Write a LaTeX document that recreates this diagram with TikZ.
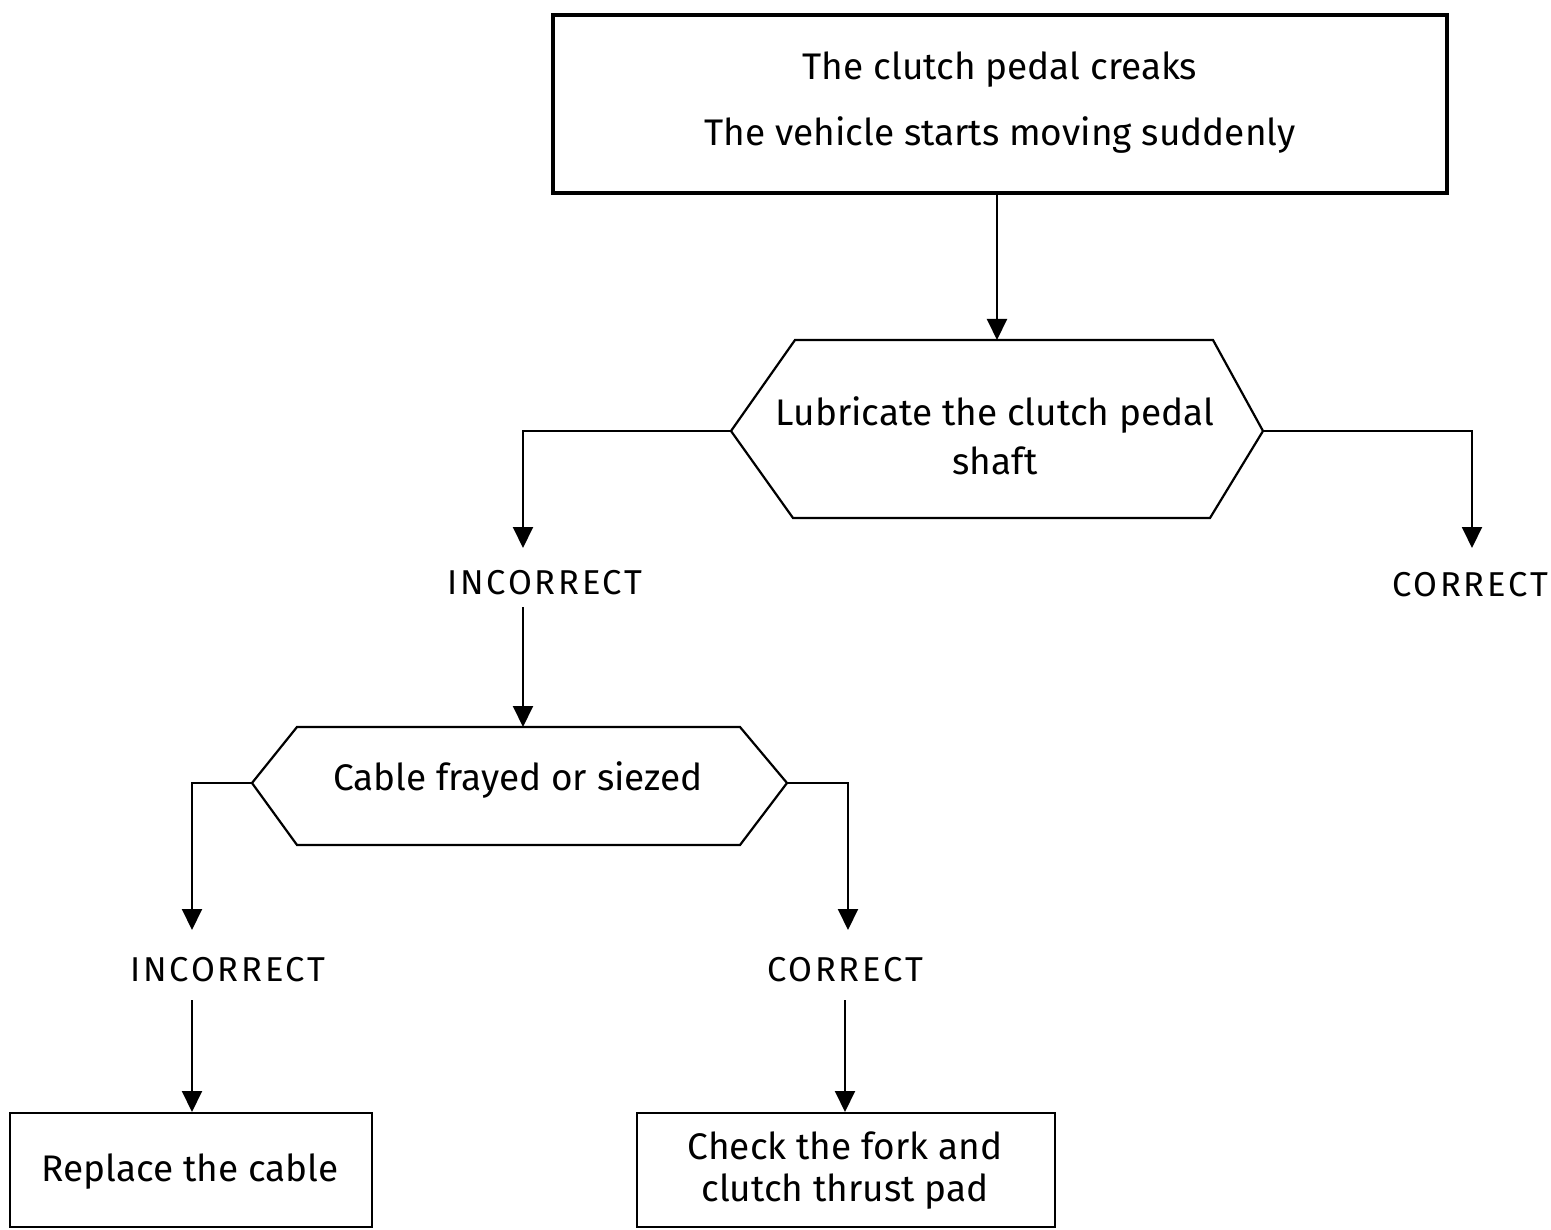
\documentclass[tikz,border=0pt]{standalone}
\usepackage{fontspec}
\setmainfont{Fira Sans}
\newfontfamily\lblfont{Fira Sans}[LetterSpace=8]
\usetikzlibrary{arrows.meta}
\begin{document}
\begin{tikzpicture}[x=1pt,y=-1pt,
  txt/.style={font=\fontsize{37}{49}\selectfont, align=center, inner sep=0pt},
  lbl/.style={font=\lblfont\fontsize{34.5}{38}\selectfont, inner sep=0pt},
  ln/.style={line width=2pt},
  arr/.style={ln, -{Triangle[length=21pt,width=20pt]}},
  hexa/.style={line width=2.2pt, line join=miter},
  boxx/.style={draw, line width=2pt}]
\useasboundingbox (0,0) rectangle (1551,1230);
% top box
\node[draw, line width=4pt, minimum width=894pt, minimum height=178pt, inner sep=0pt] (top) at (1000,104) {};
\node[txt] (t1) at (1000,70) {The clutch pedal creaks};
\node[txt] (t2) at (1000,135) {The vehicle starts moving suddenly};
% hexagon 1
\coordinate (h1t) at (997,340);
\coordinate (h1l) at (731,431);
\coordinate (h1r) at (1263,431);
\draw[hexa] (795,340) -- (1213,340) -- (h1r) -- (1210,518) -- (793,518) -- (h1l) -- cycle;
\node[txt] (h1) at (995,436) {Lubricate the clutch pedal\\shaft};
\draw[arr] (top.south -| h1t) -- (h1t);
% labels level 1
\node[lbl] (inc1) at (545,583) {INCORRECT};
\node[lbl] (cor1) at (1470,585) {CORRECT};
\coordinate (inc1a) at (523,548);
\coordinate (cor1a) at (1472,548);
\draw[arr] (h1l) -| (inc1a);
\draw[arr] (h1r) -| (cor1a);
% hexagon 2
\coordinate (h2t) at (523,727);
\coordinate (h2l) at (252,783);
\coordinate (h2r) at (787,783);
\draw[hexa] (297,727) -- (740,727) -- (h2r) -- (740,845) -- (297,845) -- (h2l) -- cycle;
\node[txt] (h2) at (518,780) {Cable frayed or siezed};
\coordinate (inc1b) at (523,607);
\draw[arr] (inc1b) -- (h2t);
% labels level 2
\node[lbl] (inc2) at (228,970) {INCORRECT};
\node[lbl] (cor2) at (845,970) {CORRECT};
\coordinate (inc2a) at (192,930);
\coordinate (cor2a) at (848,930);
\draw[arr] (h2l) -| (inc2a);
\draw[arr] (h2r) -| (cor2a);
% bottom boxes
\node[boxx, minimum width=362pt, minimum height=114pt, inner sep=0pt] (b1) at (191,1170) {};
\node[txt] (b1t) at (190,1172) {Replace the cable};
\node[boxx, minimum width=418pt, minimum height=114pt, inner sep=0pt] (b2) at (846,1170) {};
\node[txt, font=\fontsize{37}{42}\selectfont] (b2t) at (845,1171) {Check the fork and\\clutch thrust pad};
\coordinate (inc2b) at (192,1000);
\coordinate (cor2b) at (845,1000);
\draw[arr] (inc2b) -- (inc2b |- b1.north);
\draw[arr] (cor2b) -- (cor2b |- b2.north);
\end{tikzpicture}
\end{document}
